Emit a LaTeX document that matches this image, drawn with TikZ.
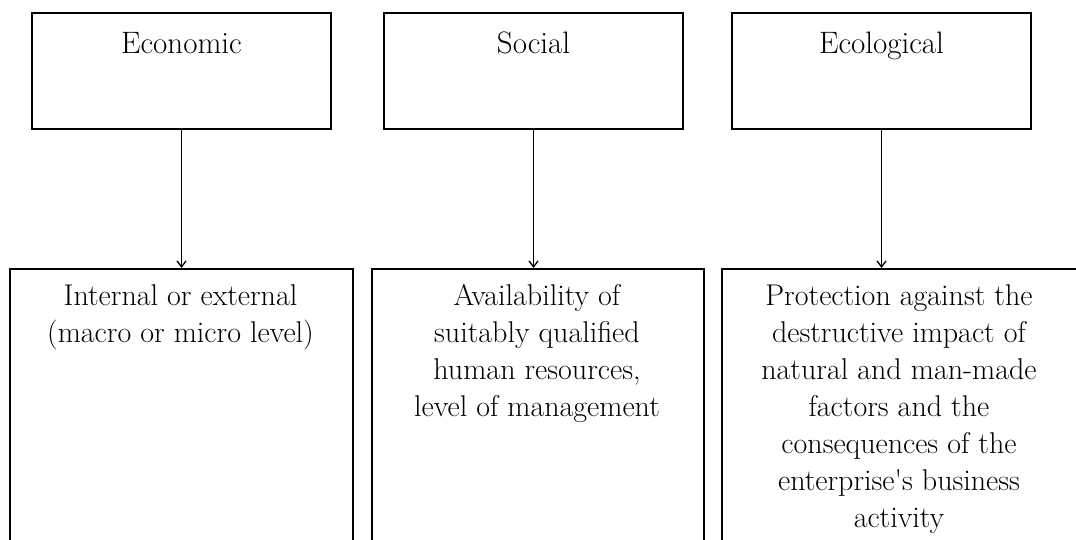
\documentclass[tikz,border=0pt]{standalone}
\usetikzlibrary{arrows.meta}
\begin{document}
\begin{tikzpicture}[x=1pt,y=-1pt,
  topbox/.style={draw=black, line width=1.6pt, minimum width=299pt, minimum height=116pt, inner sep=0pt},
  botbox/.style={draw=black, line width=1.6pt, anchor=north west, minimum height=320pt, inner sep=0pt},
  ttext/.style={anchor=base, inner sep=0pt, font=\fontsize{31}{37}\selectfont},
  btext/.style={anchor=north, inner sep=0pt, align=center, font=\fontsize{30}{37}\selectfont},
  conn/.style={line width=1.3pt, -{Straight Barb[length=6pt,width=9pt,line width=1.3pt]}}]
\useasboundingbox (0,0) rectangle (1076,540);
\clip (0,0) rectangle (1076,540);
\node[topbox] (eco) at (181.5,71) {};
\node[topbox] (soc) at (533.5,71) {};
\node[topbox] (ecl) at (881.5,71) {};
\node[ttext] (ecot) at (181.5,54) {Economic};
\node[ttext] (soct) at (533.5,54) {Social};
\node[ttext] (eclt) at (881.5,54) {Ecological};
\node[botbox, minimum width=343pt] (ecob) at (9,268) {};
\node[botbox, minimum width=332pt] (socb) at (371,268) {};
\node[botbox, minimum width=360pt] (eclb) at (721,268) {};
\node[btext] (ecobt) at (180.5,284) {Internal or external\\(macro or micro level)};
\node[btext] (socbt) at (537,284) {Availability of\\suitably qualified\\human resources,\\level of management};
\node[btext] (eclbt) at (899,284) {Protection against the\\destructive impact of\\natural and man-made\\factors and the\\consequences of the\\enterprise\textquotesingle s business\\activity};
\draw[conn] (eco.south) -- (eco.south |- ecob.north);
\draw[conn] (soc.south) -- (soc.south |- socb.north);
\draw[conn] (ecl.south) -- (ecl.south |- eclb.north);
\end{tikzpicture}
\end{document}
